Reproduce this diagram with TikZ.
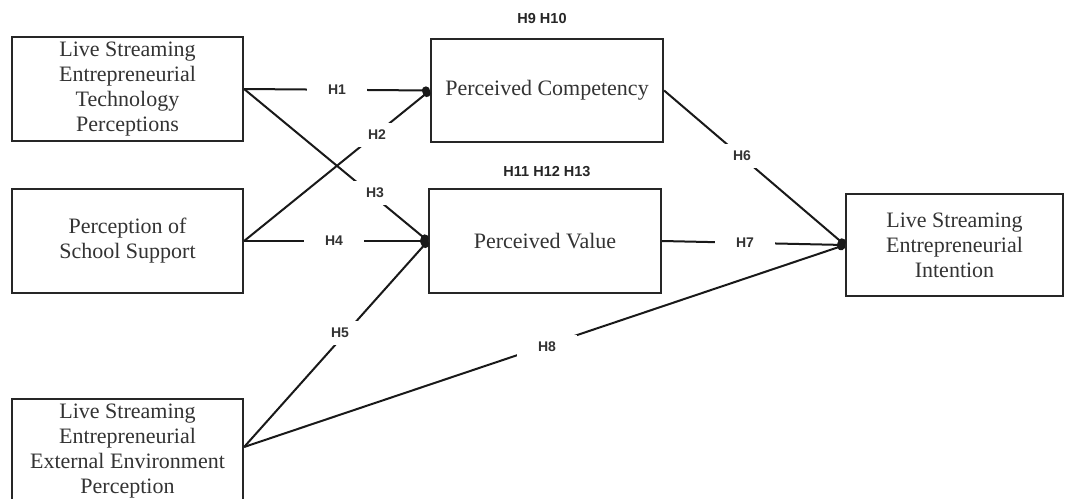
\documentclass[tikz,border=0pt]{standalone}
\usepackage{fontspec}
\setmainfont{Liberation Serif}
\newfontfamily\labfont{Liberation Sans}
\usetikzlibrary{arrows.meta}
\begin{document}
\begin{tikzpicture}[x=1pt,y=-1pt,
  box/.style={draw=black!85, line width=2.2pt, minimum width=231pt, minimum height=104pt,
    inner sep=0pt, align=center, text=black!80, font=\fontsize{22}{25}\selectfont},
  link/.style={line width=2pt, draw=black!90, -{Circle[length=8pt]}},
  hyp/.style={fill=white, minimum width=60pt, minimum height=24pt, inner sep=0pt,
    text=black!80, font=\labfont\bfseries\fontsize{14}{16}\selectfont},
  grp/.style={inner sep=0pt, text=black!85, font=\labfont\bfseries\fontsize{14.5}{16}\selectfont}]
\useasboundingbox (0,0) rectangle (1067,498);
\clip (0,0) rectangle (1067,498);
\fill[white] (0,0) rectangle (1067,498);
\node[box] (A) at (127.5,89) {Live Streaming\\Entrepreneurial\\Technology\\Perceptions};
\node[box] (B) at (127.5,241) {Perception of\\School Support};
\node[box, minimum width=232pt, minimum height=103pt] (C) at (547,90.5) {Perceived Competency};
\node[box, minimum width=232pt] (D) at (545,241) {Perceived Value};
\node[box, minimum width=217pt, minimum height=102pt] (E) at (954.5,245) {Live Streaming\\Entrepreneurial\\Intention};
\node[box, minimum width=231pt] (F) at (127.5,451) {Live Streaming\\Entrepreneurial\\External Environment\\Perception};
\node[grp] (g1) at (542,19) {H9 H10};
\node[grp] (g2) at (547,172) {H11 H12 H13};
\draw[link] (A.east) -- (C.west);
\draw[link] (A.east) -- (D.west);
\draw[link] (B.east) -- (C.west);
\draw[link] (B.east) -- (D.west);
\draw[link] ([yshift=4pt]F.east) -- (D.west);
\draw[link] ([yshift=4pt]F.east) -- (E.west);
\draw[link] (C.east) -- (E.west);
\draw[link] (D.east) -- (E.west);
\node[hyp] (h1) at (337,90) {H1};
\node[hyp] (h2) at (377,135) {H2};
\node[hyp] (h3) at (375,193) {H3};
\node[hyp] (h4) at (334,241) {H4};
\node[hyp] (h5) at (340,333) {H5};
\node[hyp] (h6) at (742,156) {H6};
\node[hyp] (h7) at (745,243) {H7};
\node[hyp] (h8) at (547,347) {H8};
\end{tikzpicture}
\end{document}
